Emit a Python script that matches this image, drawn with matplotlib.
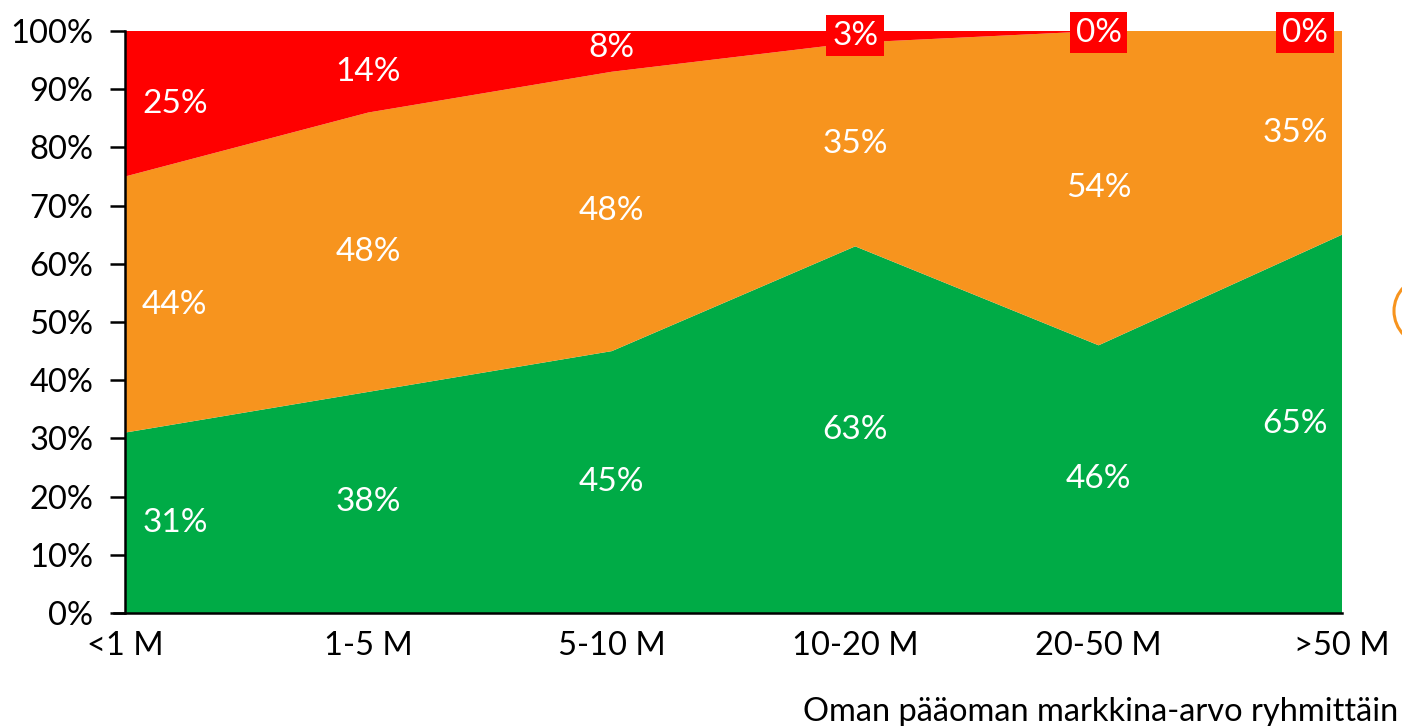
import numpy as np
import matplotlib.pyplot as plt
from matplotlib.patches import Circle

plt.rcParams['font.family'] = ['Lato', 'DejaVu Sans']

groups = ['<1 M', '1-5 M', '5-10 M', '10-20 M', '20-50 M', '>50 M']
green_vals = [31, 38, 45, 63, 46, 65]
orange_vals = [44, 48, 48, 35, 54, 35]
red_vals = [25, 14, 8, 3, 0, 0]

c_green = '#00AB46'
c_orange = '#F7941E'
c_red = '#FF0000'

fig = plt.figure(figsize=(14.02, 7.26), dpi=100)
ax = fig.add_axes([0.0892, 0.1556, 0.8680, 0.8017])

x = np.arange(len(groups))
ax.stackplot(x, green_vals, orange_vals, red_vals,
             colors=[c_green, c_orange, c_red], linewidth=0)
ax.set_xlim(0, len(groups) - 1)
ax.set_ylim(0, 100)

ax.set_yticks(np.arange(0, 101, 10))
ax.set_yticklabels([f'{v}%' for v in range(0, 101, 10)])
ax.set_xticks(x)
ax.set_xticklabels(groups)
ax.tick_params(axis='y', length=11, width=1.8, labelsize=23.5, pad=12)
ax.tick_params(axis='x', length=0, labelsize=23.5, pad=13)
for s in ['top', 'right']:
    ax.spines[s].set_visible(False)
for s in ['left', 'bottom']:
    ax.spines[s].set_linewidth(1.8)
    ax.spines[s].set_zorder(5)
ax.spines['bottom'].set_bounds(-0.045, len(groups) - 1)

# value labels in the middle of each band
fs = 24
for i in x:
    if i == 0:
        dx, ha = 0.07, 'left'
    elif i == len(groups) - 1:
        dx, ha = -0.058, 'right'
    else:
        dx, ha = 0, 'center'
    g, o, r = green_vals[i], orange_vals[i], red_vals[i]
    ax.text(i + dx, g / 2, f'{g}%', color='white', fontsize=fs, ha=ha, va='center')
    ax.text(i + dx, g + o / 2, f'{o}%', color='white', fontsize=fs, ha=ha, va='center')
    if r >= 5:
        ax.text(i + dx, g + o + r / 2, f'{r}%', color='white', fontsize=fs,
                ha=ha, va='center')
    else:
        ax.text(i + dx, min(100, g + o + r / 2) - 0.3, f'{r}%', color='white',
                fontsize=fs, ha=ha, va='center', clip_on=False, zorder=6,
                bbox=dict(facecolor=c_red, edgecolor='none', pad=4))

fig.text(0.997, 0.019, 'Oman pääoman markkina-arvo ryhmittäin',
         fontsize=23.5, ha='right', va='center')

fig.patches.append(Circle((1428, 415), 34, transform=None, fill=False,
                          edgecolor=c_orange, linewidth=2.2))

fig.savefig('out.png', dpi=100)
